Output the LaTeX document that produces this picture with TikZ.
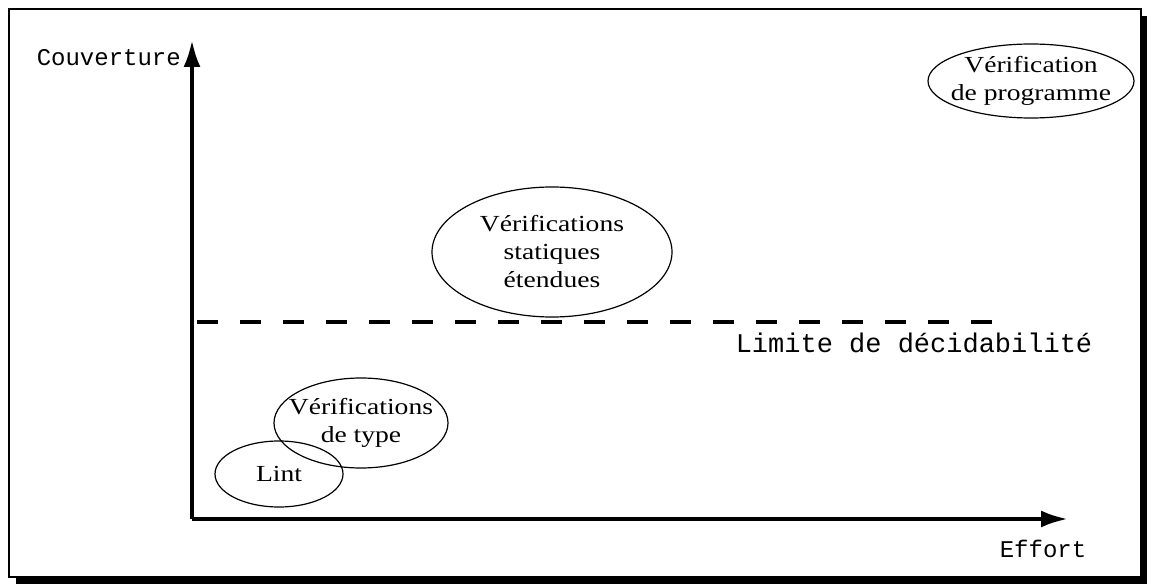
\documentclass[tikz,border=0pt]{standalone}
\usepackage{fontspec}
\setmainfont{Liberation Serif}
\setmonofont{Liberation Mono}
\newfontfamily\bullefont[FakeStretch=1.2]{Liberation Serif}
\usetikzlibrary{arrows.meta}
\tikzset{
  axe/.style={line width=4pt,-{Latex[length=27pt,width=17pt]}},
  limite/.style={line width=4pt,dash pattern=on 21pt off 22pt},
  bulle/.style={line width=1.2pt},
  etiq/.style={font=\fontsize{24}{28}\selectfont\ttfamily,inner sep=0pt},
  texte/.style={font=\fontsize{23}{28}\selectfont\bullefont,align=center,inner sep=0pt},
}
\begin{document}
\begin{tikzpicture}[x=1pt,y=-1pt]
  \useasboundingbox (0,0) rectangle (1152,585);
  % cadre et ombre
  \fill (16,577) rectangle (1147,584);
  \fill (1141,16) rectangle (1147,584);
  \draw[line width=1.5pt] (9,9) rectangle (1141,577);
  % axes
  \coordinate (O) at (192,519);
  \coordinate (yfin) at (192,40);
  \coordinate (xfin) at (1068,519);
  \draw[axe] (O) -- (yfin);
  \draw[axe] (O) -- (xfin);
  \node[etiq,anchor=east] (couv) at (181,58) {Couverture};
  \node[etiq] (effort) at (1043,549) {Effort};
  % limite de decidabilite
  \coordinate (lim1) at (197,322);
  \coordinate (lim2) at (1002,322);
  \draw[limite] (lim1) -- (lim2);
  \node[etiq,font=\fontsize{27}{30}\selectfont\ttfamily] (limtxt) at (914,343) {Limite de décidabilité};
  % bulles
  \node[texte] (prog) at (1031,81) {Vérification\\de programme};
  \draw[bulle] (prog) ellipse[x radius=103pt,y radius=37pt];
  \node[texte] (stat) at (552,252) {Vérifications\\statiques\\étendues};
  \draw[bulle] (stat) ellipse[x radius=120pt,y radius=65pt];
  \node[texte] (type) at (361,423) {Vérifications\\de type};
  \draw[bulle] (type) ellipse[x radius=87pt,y radius=45pt];
  \node[texte] (lint) at (279,474) {Lint};
  \draw[bulle] (lint) ellipse[x radius=64pt,y radius=33pt];
\end{tikzpicture}
\end{document}
